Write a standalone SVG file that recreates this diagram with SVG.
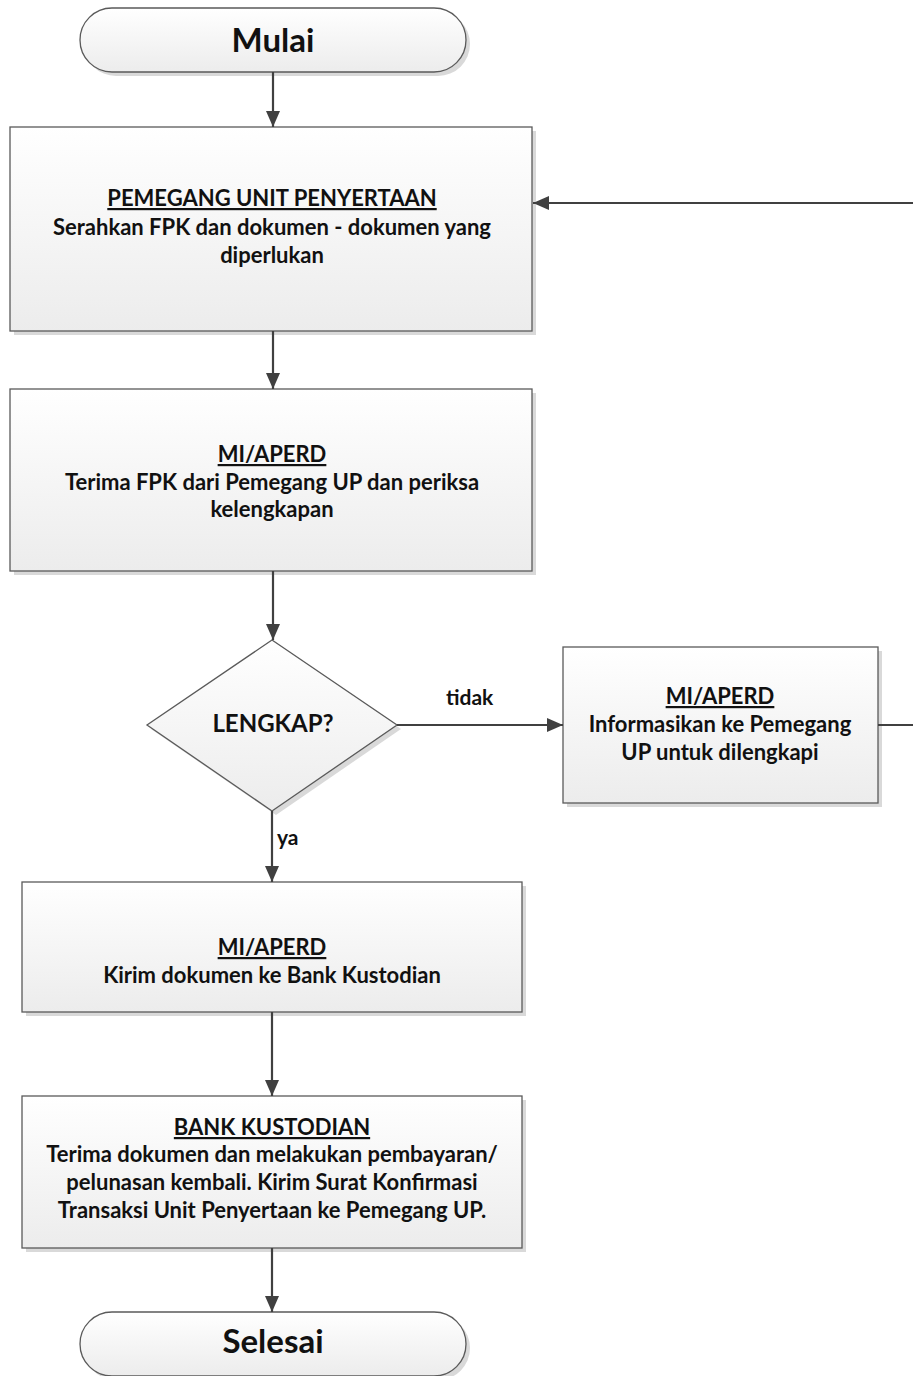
<svg xmlns="http://www.w3.org/2000/svg" width="913" height="1376" viewBox="0 0 913 1376">
<defs>
<linearGradient id="g" x1="0" y1="0" x2="0" y2="1">
<stop offset="0" stop-color="#ffffff"/>
<stop offset="1" stop-color="#ececec"/>
</linearGradient>
<marker id="ah" markerWidth="16" markerHeight="14" refX="16" refY="7" orient="auto" markerUnits="userSpaceOnUse">
<path d="M0,0 L16,7 L0,14 Z" fill="#404040"/>
</marker>
</defs>
<style>
.sh{fill:#d9d9d9}
.bx{fill:url(#g);stroke:#5a5a5a;stroke-width:1.3}
.t{font-family:Lato,"Liberation Sans",sans-serif;font-weight:bold;fill:#111;text-anchor:middle;font-size:22px}
.tb{font-size:33px}
.u{text-decoration:underline}
.c{stroke:#404040;stroke-width:2.2;fill:none}
.lbl{font-family:Lato,"Liberation Sans",sans-serif;font-weight:bold;fill:#111;font-size:21px}
</style>
<g id="mulai">
<rect x="84" y="12" width="386" height="64" rx="32" class="sh"/>
<rect x="80" y="8" width="386" height="64" rx="32" class="bx"/>
<text x="273" y="52" class="t tb">Mulai</text>
</g>
<g id="pemegang">
<rect x="14" y="131" width="522" height="204" class="sh"/>
<rect x="10" y="127" width="522" height="204" class="bx"/>
<text class="t"><tspan x="272" y="206" class="u">PEMEGANG UNIT PENYERTAAN</tspan><tspan x="272" y="235">Serahkan FPK dan dokumen - dokumen yang</tspan><tspan x="272" y="263">diperlukan</tspan></text>
</g>
<g id="terima">
<rect x="14" y="393" width="522" height="182" class="sh"/>
<rect x="10" y="389" width="522" height="182" class="bx"/>
<text class="t"><tspan x="272" y="462" class="u">MI/APERD</tspan><tspan x="272" y="490">Terima FPK dari Pemegang UP dan periksa</tspan><tspan x="272" y="517">kelengkapan</tspan></text>
</g>
<g id="lengkap">
<polygon points="276,644 401,729 276,815 151,729" class="sh"/>
<polygon points="272,640 397,725 272,811 147,725" class="bx"/>
<text x="273" y="732" class="t" style="font-size:24px">LENGKAP?</text>
</g>
<g id="informasi">
<rect x="567" y="651" width="315" height="156" class="sh"/>
<rect x="563" y="647" width="315" height="156" class="bx"/>
<text class="t"><tspan x="720" y="704" class="u">MI/APERD</tspan><tspan x="720" y="732">Informasikan ke Pemegang</tspan><tspan x="720" y="760">UP untuk dilengkapi</tspan></text>
</g>
<g id="kirim">
<rect x="26" y="886" width="500" height="130" class="sh"/>
<rect x="22" y="882" width="500" height="130" class="bx"/>
<text class="t"><tspan x="272" y="955" class="u">MI/APERD</tspan><tspan x="272" y="983">Kirim dokumen ke Bank Kustodian</tspan></text>
</g>
<g id="bank">
<rect x="26" y="1100" width="500" height="152" class="sh"/>
<rect x="22" y="1096" width="500" height="152" class="bx"/>
<text class="t"><tspan x="272" y="1135" class="u">BANK KUSTODIAN</tspan><tspan x="272" y="1162">Terima dokumen dan melakukan pembayaran/</tspan><tspan x="272" y="1190">pelunasan kembali. Kirim Surat Konfirmasi</tspan><tspan x="272" y="1218">Transaksi Unit Penyertaan ke Pemegang UP.</tspan></text>
</g>
<g id="selesai">
<rect x="84" y="1316" width="386" height="64" rx="32" class="sh"/>
<rect x="80" y="1312" width="386" height="64" rx="32" class="bx"/>
<text x="273" y="1353" class="t tb">Selesai</text>
</g>
<g id="connectors">
<line x1="273" y1="72" x2="273" y2="127" class="c" marker-end="url(#ah)"/>
<line x1="273" y1="331" x2="273" y2="389" class="c" marker-end="url(#ah)"/>
<line x1="273" y1="571" x2="273" y2="640" class="c" marker-end="url(#ah)"/>
<line x1="397" y1="725" x2="563" y2="725" class="c" marker-end="url(#ah)"/>
<text x="446" y="705" class="lbl">tidak</text>
<line x1="272" y1="811" x2="272" y2="882" class="c" marker-end="url(#ah)"/>
<text x="277" y="845" class="lbl">ya</text>
<line x1="878" y1="725" x2="913" y2="725" class="c"/>
<line x1="913" y1="203" x2="533" y2="203" class="c" marker-end="url(#ah)"/>
<line x1="272" y1="1012" x2="272" y2="1096" class="c" marker-end="url(#ah)"/>
<line x1="272" y1="1248" x2="272" y2="1312" class="c" marker-end="url(#ah)"/>
</g>
</svg>
